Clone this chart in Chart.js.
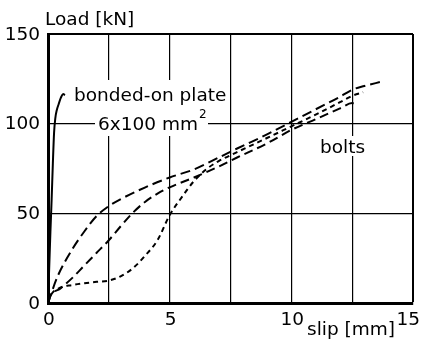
<!DOCTYPE html>
<html lang="en">
<head>
<meta charset="UTF-8">
<title>Load vs slip</title>
<script src="https://cdn.jsdelivr.net/npm/chart.js"></script>
<style>
    body { margin: 0; padding: 0; background: #fff; }
    .wrap { position: relative; width: 421px; height: 343px; }
</style>
</head>
<body>
<div class="wrap"><canvas id="slipChart"></canvas></div>
<script>
    // axis ticks
    const xTicks = [0, 5, 10, 15];
    const yTicks = [0, 50, 100, 150];

    // bonded-on plate (solid)
    const bondedSlip = [0, 0.05, 0.1, 0.15, 0.2, 0.25, 0.3, 0.36, 0.44, 0.53, 0.62, 0.7];
    const bondedLoad = [0, 20, 40, 58, 78, 95, 103, 107.5, 111, 114.5, 116.5, 116];

    // bolts, three tests (dashed)
    const boltASlip = [0, 0.1, 0.4, 1, 1.5, 2, 2.5, 3, 4, 5, 6, 7, 7.75, 9, 10, 11, 12, 12.5, 13, 13.7];
    const boltALoad = [0, 4, 15, 30, 40, 48.5, 54, 58, 64.5, 70, 74.5, 81, 86, 94, 101, 108, 115, 118.9, 121, 123.4];

    const boltBSlip = [0, 0.1, 0.5, 1, 1.5, 2, 2.5, 3, 3.5, 4, 4.5, 5, 6, 7, 7.75, 9, 10, 11, 12, 12.5, 12.65];
    const boltBLoad = [0, 4, 8, 14, 21, 28, 35, 43, 50.5, 56.5, 61, 64.5, 70, 76, 81, 89, 96.5, 102.5, 108.5, 111.5, 110.5];

    const boltCSlip = [0, 0.1, 0.5, 1, 1.5, 2, 2.5, 3, 3.5, 4, 4.5, 5, 5.5, 6, 6.5, 7, 7.75, 9, 10, 11, 12, 12.5, 12.95];
    const boltCLoad = [0, 4, 8.5, 10, 11, 11.8, 12.5, 15, 19.5, 26.5, 35, 49, 59, 68, 74.5, 79, 84, 92, 98.5, 105, 112, 115.5, 117.5];

    function toPoints(xs, ys) {
        return xs.map((x, i) => ({ x: x, y: ys[i] }));
    }

    const FONT = '"DejaVu Sans", sans-serif';

    // text labels, tick labels and axis titles
    const textPlugin = {
        id: 'textPlugin',
        beforeDatasetsDraw(chart) {
            const ctx = chart.ctx;
            ctx.save();
            // white boxes that break the grid behind the annotations
            ctx.fillStyle = '#fff';
            ctx.fillRect(72, 80, 158, 26);
            ctx.fillRect(95, 106, 113, 30);
            ctx.fillRect(318, 136, 47, 20);
            ctx.fillStyle = '#000';
            ctx.font = '18.5px ' + FONT;
            ctx.textBaseline = 'alphabetic';
            ctx.textAlign = 'left';
            ctx.fillText('bonded-on plate', 74, 100.5);
            ctx.fillText('6x100 mm', 98, 130);
            ctx.font = '12px ' + FONT;
            ctx.fillText('2', 199, 118);
            ctx.font = '18.5px ' + FONT;
            ctx.fillText('bolts', 320, 153);
            ctx.restore();
        },
        afterDraw(chart) {
            const ctx = chart.ctx;
            const xs = chart.scales.x;
            const ys = chart.scales.y;
            ctx.save();
            ctx.fillStyle = '#000';
            ctx.font = '18.5px ' + FONT;
            // y tick labels
            ctx.textAlign = 'right';
            ctx.textBaseline = 'middle';
            yTicks.forEach(v => {
                ctx.fillText(String(v), 40, ys.getPixelForValue(v) + 1);
            });
            // x tick labels
            ctx.textAlign = 'center';
            ctx.textBaseline = 'alphabetic';
            xTicks.forEach(v => {
                const s = String(v);
                const w = ctx.measureText(s).width;
                let px = xs.getPixelForValue(v);
                px = Math.max(px + 1, w / 2);
                px = Math.min(px, chart.width - w / 2 - 1);
                ctx.fillText(s, px, xs.bottom + 22);
            });
            // axis titles
            ctx.textAlign = 'left';
            ctx.fillText('Load [kN]', 45, 25);
            ctx.fillText('slip [mm]', 307, 335);
            ctx.restore();
        }
    };

    new Chart(document.getElementById('slipChart'), {
        type: 'scatter',
        data: {
            datasets: [
                {
                    label: 'bonded-on plate',
                    data: toPoints(bondedSlip, bondedLoad),
                    showLine: true,
                    borderColor: '#000',
                    borderWidth: 2,
                    pointRadius: 0,
                    cubicInterpolationMode: 'monotone'
                },
                {
                    label: 'bolts A',
                    data: toPoints(boltASlip, boltALoad),
                    showLine: true,
                    borderColor: '#000',
                    borderWidth: 2,
                    borderDash: [10, 5],
                    pointRadius: 0,
                    cubicInterpolationMode: 'monotone'
                },
                {
                    label: 'bolts B',
                    data: toPoints(boltBSlip, boltBLoad),
                    showLine: true,
                    borderColor: '#000',
                    borderWidth: 2,
                    borderDash: [9, 5],
                    pointRadius: 0,
                    cubicInterpolationMode: 'monotone'
                },
                {
                    label: 'bolts C',
                    data: toPoints(boltCSlip, boltCLoad),
                    showLine: true,
                    borderColor: '#000',
                    borderWidth: 2,
                    borderDash: [5, 4],
                    pointRadius: 0,
                    cubicInterpolationMode: 'monotone'
                }
            ]
        },
        options: {
            responsive: true,
            maintainAspectRatio: false,
            animation: false,
            layout: { padding: { left: 48, right: 8, top: 34, bottom: 40 } },
            plugins: {
                legend: { display: false },
                tooltip: { enabled: false }
            },
            scales: {
                x: {
                    type: 'linear',
                    min: 0,
                    max: 15,
                    ticks: { display: false, stepSize: 2.5 },
                    grid: {
                        color: '#000',
                        drawTicks: false,
                        lineWidth: c => (c.tick && c.tick.value === 15 ? 2 : 1.2)
                    },
                    border: { display: true, color: '#000', width: 3 }
                },
                y: {
                    min: 0,
                    max: 150,
                    ticks: { display: false, stepSize: 50 },
                    grid: {
                        color: '#000',
                        drawTicks: false,
                        lineWidth: c => (c.tick && c.tick.value === 150 ? 2 : 1.2)
                    },
                    border: { display: true, color: '#000', width: 3 }
                }
            }
        },
        plugins: [textPlugin]
    });
</script>
</body>
</html>
